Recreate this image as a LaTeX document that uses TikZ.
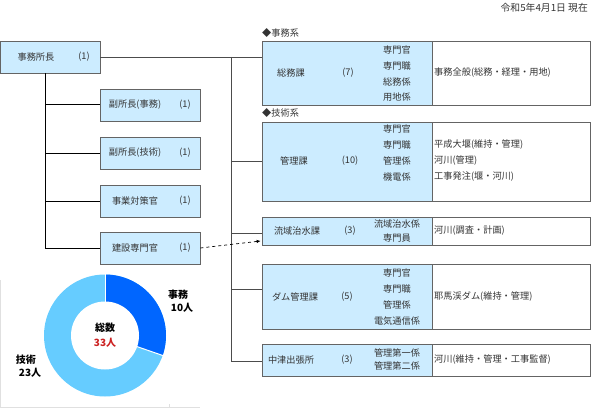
\documentclass[tikz,border=0pt]{standalone}
\usepackage{fontspec}
\setmainfont{Noto Sans CJK JP}
\usetikzlibrary{arrows.meta,calc}
\definecolor{boxblue}{RGB}{204,236,255}
\definecolor{boxline}{RGB}{100,100,100}
\definecolor{darkslice}{RGB}{0,102,255}
\definecolor{lightslice}{RGB}{102,204,255}
\definecolor{numred}{RGB}{204,34,34}
\begin{document}
\begin{tikzpicture}[x=1pt,y=-1pt,
  every node/.style={font=\fontsize{9.2}{11}\selectfont, text=black!80, inner sep=0pt},
  bbox/.style={draw=boxline, line width=0.7pt, fill=boxblue, minimum height=32pt, minimum width=100pt},
  rbox/.style={draw=boxline, line width=0.7pt, fill=boxblue, minimum width=170pt},
  wbox/.style={draw=boxline, line width=0.7pt, fill=white, minimum width=158pt},
  conn/.style={draw=black!70, line width=0.8pt},
  lconn/.style={draw=black, line width=1pt},
  lbl/.style={font=\fontsize{10}{12}\selectfont\bfseries, text=black}
]
\useasboundingbox (0,0) rectangle (591,409);

% date
\node[anchor=east, font=\fontsize{9.8}{12}\selectfont] (date) at (588,8) {令和5年4月1日 現在};

% left column
\node[bbox] (chief) at (50,57) {};
\node (chiefT) at (36,57) {事務所長};
\node (chiefN) at (84,57) {(1)};

\node[bbox] (fuku1) at (150,105) {};
\node (fuku1T) at (135,105) {副所長(事務)};
\node (fuku1N) at (185,105) {(1)};
\node[bbox] (fuku2) at (150,153) {};
\node (fuku2T) at (135,153) {副所長(技術)};
\node (fuku2N) at (185,153) {(1)};
\node[bbox] (jigyo) at (150,201) {};
\node (jigyoT) at (135,201) {事業対策官};
\node (jigyoN) at (185,201) {(1)};
\node[bbox] (kensetsu) at (150,248) {};
\node (kensetsuT) at (135,248) {建設専門官};
\node (kensetsuN) at (185,248) {(1)};

% section labels
\node[anchor=west] (jimukei) at (262,33) {◆事務系};
\node[anchor=west] (gijutsukei) at (262,113) {◆技術系};

% right boxes: soumu
\node[rbox, minimum height=64pt] (soumu) at (347,73) {};
\node[wbox, minimum height=64pt] (soumuW) at (511,73) {};
\node (soumuT) at (291,73) {総務課};
\node (soumuN) at (348,73) {(7)};
\node (s1) at (397,50) {専門官};
\node (s2) at (397,66) {専門職};
\node (s3) at (397,82) {総務係};
\node (s4) at (397,97) {用地係};
\node[anchor=west] (soumuR) at (434,73) {事務全般(総務・経理・用地)};

% kanri
\node[rbox, minimum height=79pt] (kanri) at (347,161.5) {};
\node[wbox, minimum height=79pt] (kanriW) at (511,161.5) {};
\node (kanriT) at (294,161) {管理課};
\node (kanriN) at (350,161) {(10)};
\node (k1) at (397,129) {専門官};
\node (k2) at (397,145) {専門職};
\node (k3) at (397,161) {管理係};
\node (k4) at (397,177) {機電係};
\node[anchor=west] (kr1) at (434,145) {平成大堰(維持・管理)};
\node[anchor=west] (kr2) at (434,161) {河川(管理)};
\node[anchor=west] (kr3) at (434,177) {工事発注(堰・河川)};

% ryuiki
\node[rbox, minimum height=28pt] (ryuiki) at (347,231) {};
\node[wbox, minimum height=28pt] (ryuikiW) at (511,231) {};
\node (ryuikiT) at (297,231) {流域治水課};
\node (ryuikiN) at (350,231) {(3)};
\node (r1) at (397,224) {流域治水係};
\node (r2) at (397,238) {専門員};
\node[anchor=west] (ryuikiR) at (434,231) {河川(調査・計画)};

% dam
\node[rbox, minimum height=65pt] (dam) at (347,296.5) {};
\node[wbox, minimum height=65pt] (damW) at (511,296.5) {};
\node (damT) at (295,297) {ダム管理課};
\node (damN) at (347,297) {(5)};
\node (d1) at (397,273) {専門官};
\node (d2) at (397,289) {専門職};
\node (d3) at (397,305) {管理係};
\node (d4) at (397,321) {電気通信係};
\node[anchor=west] (damR) at (434,297) {耶馬渓ダム(維持・管理)};

% nakatsu
\node[rbox, minimum height=32pt] (nakatsu) at (347,360) {};
\node[wbox, minimum height=32pt] (nakatsuW) at (511,360) {};
\node (nakatsuT) at (291,360) {中津出張所};
\node (nakatsuN) at (347,360) {(3)};
\node (n1) at (397,353) {管理第一係};
\node (n2) at (397,366) {管理第二係};
\node[anchor=west] (nakatsuR) at (434,360) {河川(維持・管理・工事監督)};

% connectors right
\coordinate (trunk) at (231,57);
\coordinate (trunkEnd) at (231,361);
\draw[conn] (chief.east) -- (soumu.west |- chief.east);
\draw[conn] (trunk) -- (trunkEnd);
\draw[conn] (trunk |- kanri.west) -- (kanri.west);
\draw[conn] (trunk |- 0,233) -- (ryuiki.west |- 0,233);
\draw[conn] (trunk |- 0,289) -- (dam.west |- 0,289);
\draw[conn] (trunk |- 0,361) -- (nakatsu.west |- 0,361);

% connectors left
\coordinate (ltrunk) at (45,57);
\draw[lconn] (chief.south -| ltrunk) -- (ltrunk |- kensetsu.west) -- (kensetsu.west);
\draw[lconn] (ltrunk |- fuku1.west) -- (fuku1.west);
\draw[lconn] (ltrunk |- fuku2.west) -- (fuku2.west);
\draw[lconn] (ltrunk |- jigyo.west) -- (jigyo.west);

% dashed arrow
\draw[black, line width=0.7pt, dashed, -{Latex[length=4pt,width=3.5pt]}] (kensetsu.east) -- ($(ryuiki.west)+(-1,10)$);

% chart frame (faint)
\draw[black!12, line width=0.5pt] (0.5,280) -- (0.5,407.5) -- (200,407.5);
\draw[black!12, line width=0.5pt] (169,407.5) -- (169,404);

% donut
\begin{scope}[shift={(105,335.5)}, y=1pt]
  \fill[lightslice] (0,0) -- (90:61) arc[start angle=90, end angle=-269.99, radius=61] -- cycle;
  \fill[darkslice] (0,0) -- (90:61) arc[start angle=90, end angle=-19.1, radius=61] -- cycle;
  \fill[white] (0,0) circle[radius=34];
  \draw[white, line width=1pt] (90:33) -- (90:62);
  \draw[white, line width=1pt] (-19.1:33) -- (-19.1:62);
\end{scope}
\node[lbl] (total) at (105,328) {総数};
\node[lbl, text=numred] (totalN) at (105,343) {33人};
\node[lbl] (jimu) at (178,295) {事務};
\node[lbl] (jimuN) at (182,308) {10人};
\node[lbl] (giju) at (26,360) {技術};
\node[lbl] (gijuN) at (30,373) {23人};
\end{tikzpicture}
\end{document}
